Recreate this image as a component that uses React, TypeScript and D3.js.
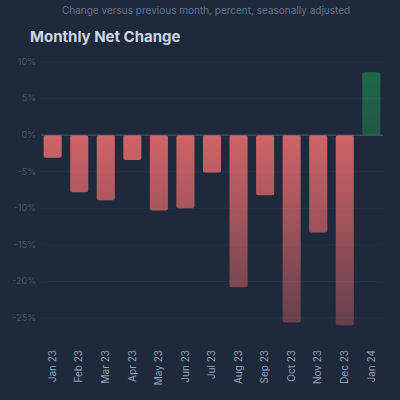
import React from "react";
import * as d3 from "d3";

const months = [
  "Jan 23", "Feb 23", "Mar 23", "Apr 23", "May 23", "Jun 23", "Jul 23",
  "Aug 23", "Sep 23", "Oct 23", "Nov 23", "Dec 23", "Jan 24",
];
const changes = [-3.1, -7.8, -8.9, -3.4, -10.3, -10.0, -5.1, -20.8, -8.2, -25.6, -13.3, -26.0, 8.6];
const yTicks = [-25, -20, -15, -10, -5, 0, 5, 10];

const W = 400;
const H = 400;
const margin = { top: 62, right: 17, bottom: 60, left: 41 };

const App: React.FC = () => {
  const x = d3
    .scaleBand<string>()
    .domain(months)
    .range([margin.left, W - margin.right])
    .paddingInner(0.32)
    .paddingOuter(0.1);

  const y = d3
    .scaleLinear()
    .domain([-28, 10])
    .range([H - margin.bottom, margin.top]);

  const y0 = y(0);

  return (
    <div style={{ position: "fixed", left: 0, top: 0 }}>
      <svg width={W} height={H} style={{ display: "block", fontFamily: "Inter, 'Noto Sans', sans-serif" }}>
        <defs>
          <linearGradient id="neg" gradientUnits="userSpaceOnUse" x1="0" y1={y0} x2="0" y2={y(-28)}>
            <stop offset="0%" stopColor="#f87171" stopOpacity={0.82} />
            <stop offset="100%" stopColor="#f87171" stopOpacity={0.28} />
          </linearGradient>
          <linearGradient id="pos" gradientUnits="userSpaceOnUse" x1="0" y1={y(10)} x2="0" y2={y0}>
            <stop offset="0%" stopColor="#22c55e" stopOpacity={0.42} />
            <stop offset="100%" stopColor="#22c55e" stopOpacity={0.3} />
          </linearGradient>
        </defs>
        <rect width={W} height={H} fill="#1e293b" />

        <text x={62} y={14} fontSize={10} fill="#64748b">
          Change versus previous month, percent, seasonally adjusted
        </text>
        <text x={30} y={42} fontSize={15} fontWeight={700} fill="#cbd5e1">
          Monthly Net Change
        </text>

        {yTicks.map((t) => (
          <g key={t}>
            <line x1={margin.left} x2={W - margin.right} y1={y(t)} y2={y(t)} stroke="#334155" strokeOpacity={0.4} />
            <text x={margin.left - 5} y={y(t)} dy="0.32em" textAnchor="end" fontSize={9} fill="#475569">
              {t}%
            </text>
          </g>
        ))}

        {months.map((m, i) => {
          const v = changes[i];
          const bx = x(m) ?? 0;
          const top = v >= 0 ? y(v) : y0;
          const h = Math.abs(y(v) - y0);
          return (
            <rect
              key={m}
              x={bx}
              y={top}
              width={x.bandwidth()}
              height={h}
              rx={2}
              fill={v >= 0 ? "url(#pos)" : "url(#neg)"}
            />
          );
        })}

        <line x1={margin.left} x2={W - margin.right} y1={y0} y2={y0} stroke="#64748b" strokeOpacity={0.7} />

        {months.map((m) => {
          const cx = (x(m) ?? 0) + x.bandwidth() / 2;
          const ty = H - margin.bottom + 10;
          return (
            <text
              key={m}
              transform={`translate(${cx},${ty}) rotate(-90)`}
              dy="0.32em"
              textAnchor="end"
              fontSize={10}
              fill="#94a3b8"
            >
              {m}
            </text>
          );
        })}
      </svg>
    </div>
  );
};

export default App;
